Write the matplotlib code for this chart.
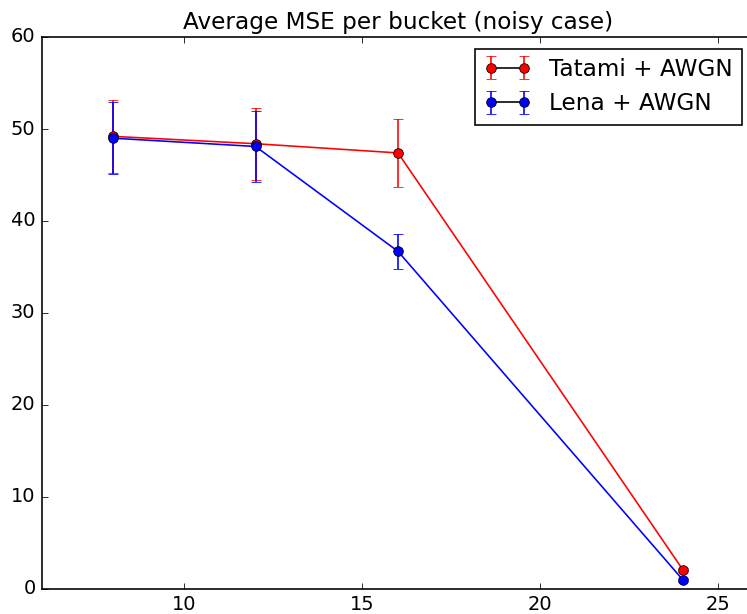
import matplotlib

matplotlib.use("Agg")
import matplotlib.pyplot as plt
from matplotlib.lines import Line2D

plt.style.use("classic")

buckets = [8, 12, 16, 24]
tatami_mse = [49.2, 48.4, 47.4, 2.1]
tatami_err = [4.0, 3.9, 3.65, 0.2]
lena_mse = [49.0, 48.1, 36.7, 1.0]
lena_err = [3.9, 3.9, 1.9, 0.2]

# original looks rendered a bit larger than 100 dpi
dpi = 116
fig = plt.figure(figsize=(747 / dpi, 614 / dpi), dpi=dpi)
ax = fig.add_axes([42 / 747, 25 / 614, 712 / 747, 552 / 614])

ax.errorbar(buckets, tatami_mse, yerr=tatami_err, color="red", ecolor="red",
            marker="o", markerfacecolor="red", label="Tatami + AWGN")
ax.errorbar(buckets, lena_mse, yerr=lena_err, color="blue", ecolor="blue",
            marker="o", markerfacecolor="blue", label="Lena + AWGN")

ax.set_xlim(6, 26)
ax.set_ylim(0, 60)
ax.set_xticks([10, 15, 20, 25])
ax.set_yticks([0, 10, 20, 30, 40, 50, 60])
ax.set_title("Average MSE per bucket (noisy case)")
leg = ax.legend(loc="upper right", numpoints=2)
# the old legend drew the connecting line in black
for ln in leg.findobj(Line2D):
    if ln.get_linestyle() not in ("None", "none", ""):
        ln.set_color("black")

fig.savefig("out.png", dpi=dpi)
plt.close(fig)
